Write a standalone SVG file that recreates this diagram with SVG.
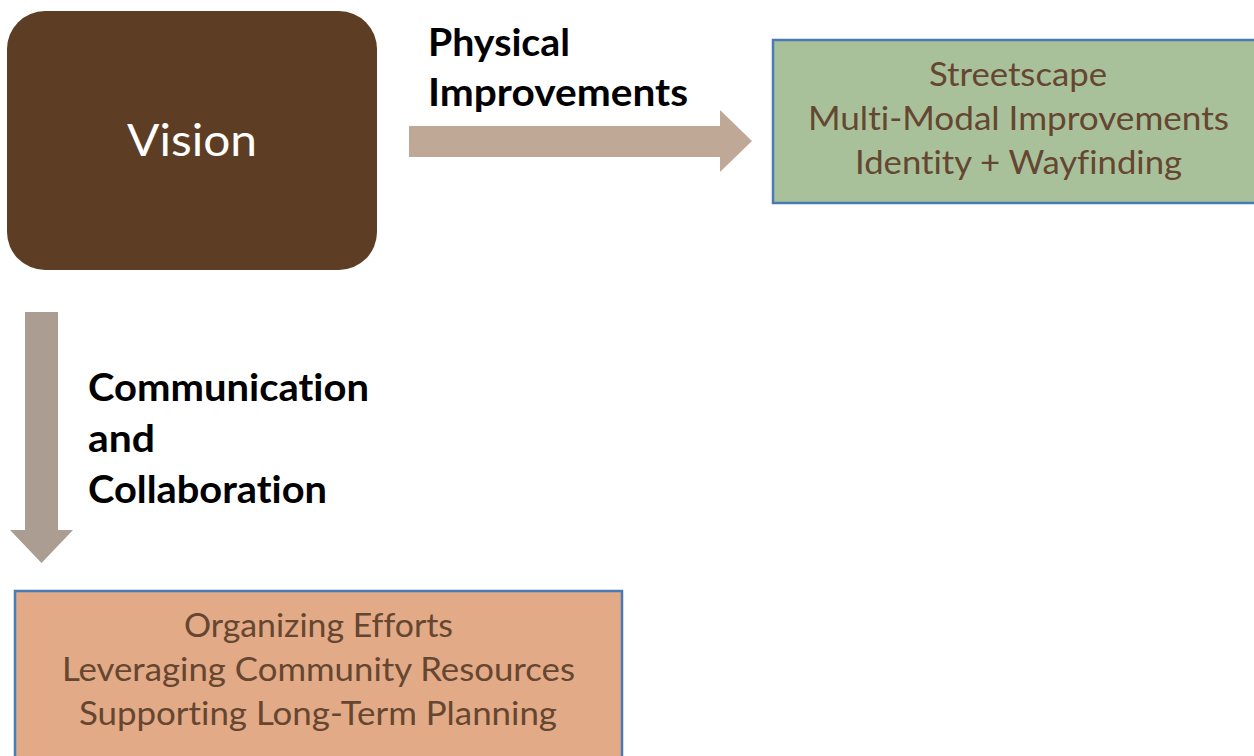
<svg xmlns="http://www.w3.org/2000/svg" width="1254" height="756" viewBox="0 0 1254 756">
  <style>
    text { font-variant-ligatures: none; }
    .bg { fill: #ffffff; }
    .vision { fill: #5d3d24; }
    .vision-text { font-family: Lato, "Open Sans", sans-serif; font-size: 44px; fill: #ffffff; }
    .label { font-family: Lato, "Open Sans", sans-serif; font-weight: bold; font-size: 38px; fill: #000000; }
    .box { stroke: #4a7ab4; stroke-width: 2.5; }
    .green { fill: #a9c19b; }
    .orange { fill: #e2aa86; }
    .item { font-family: Lato, "Open Sans", sans-serif; font-size: 33px; fill: #654630; }
  </style>

  <rect class="bg" x="0" y="0" width="1254" height="756"/>

  <!-- Connectors: broad block arrows -->
  <g id="connectors">
    <path id="arrow-physical" d="M409 126 H720 V110 L752 141 L720 172 V157 H409 Z" fill="#bfa896"/>
    <path id="arrow-communication" d="M25 312 H58 V530 H73 L41.5 563 L10 530 H25 Z" fill="#ab9d91"/>
    <text class="label" x="428" y="56" textLength="142" lengthAdjust="spacingAndGlyphs">Physical</text>
    <text class="label" x="428" y="106" textLength="260" lengthAdjust="spacingAndGlyphs">Improvements</text>
    <text class="label" x="88" y="401" textLength="281" lengthAdjust="spacingAndGlyphs">Communication</text>
    <text class="label" x="88" y="452" textLength="67" lengthAdjust="spacingAndGlyphs">and</text>
    <text class="label" x="88" y="503" textLength="239" lengthAdjust="spacingAndGlyphs">Collaboration</text>
  </g>

  <!-- Central vision node -->
  <g id="vision">
    <rect class="vision" x="7" y="11" width="370" height="259" rx="38" ry="38"/>
    <text class="vision-text" x="127" y="156" textLength="130" lengthAdjust="spacingAndGlyphs">Vision</text>
  </g>

  <!-- Physical improvements outcomes -->
  <g id="physical-outcomes">
    <rect class="box green" x="773" y="40" width="495" height="163"/>
    <text class="item" x="929" y="86" textLength="178" lengthAdjust="spacingAndGlyphs">Streetscape</text>
    <text class="item" x="808" y="130" textLength="421" lengthAdjust="spacingAndGlyphs">Multi-Modal Improvements</text>
    <text class="item" x="855" y="174" textLength="327" lengthAdjust="spacingAndGlyphs">Identity + Wayfinding</text>
  </g>

  <!-- Communication and collaboration outcomes -->
  <g id="communication-outcomes">
    <rect class="box orange" x="15" y="591" width="607" height="180"/>
    <text class="item" x="184" y="637" textLength="269" lengthAdjust="spacingAndGlyphs">Organizing Efforts</text>
    <text class="item" x="62" y="681" textLength="513" lengthAdjust="spacingAndGlyphs">Leveraging Community Resources</text>
    <text class="item" x="79" y="725" textLength="478" lengthAdjust="spacingAndGlyphs">Supporting Long-Term Planning</text>
  </g>
</svg>
